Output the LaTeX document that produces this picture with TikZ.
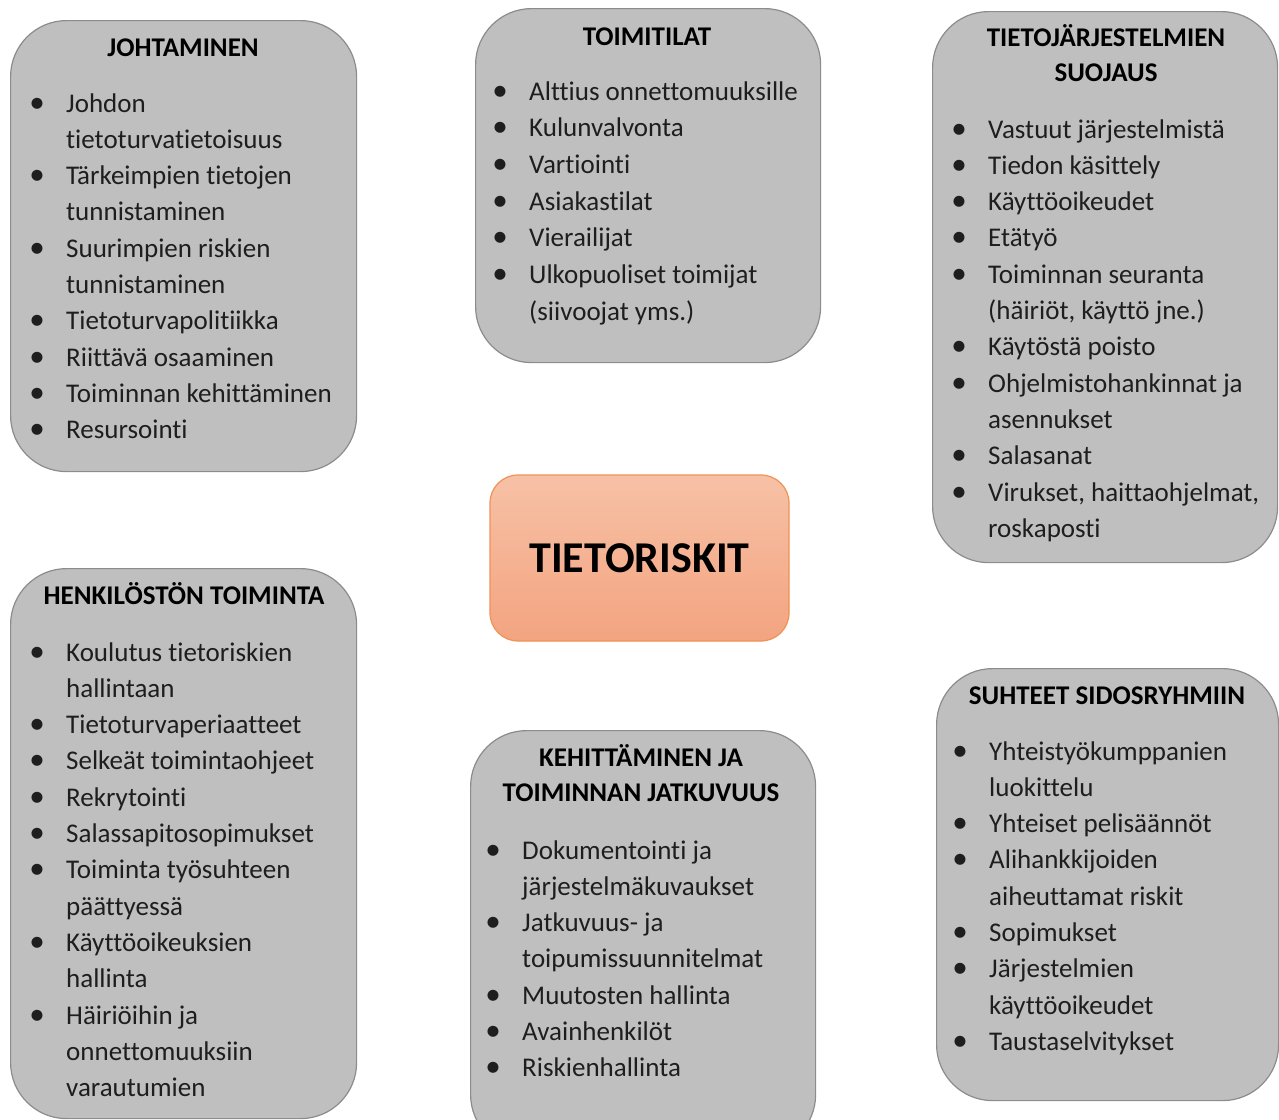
\documentclass[tikz,border=0pt]{standalone}
\usepackage{fontspec}
\setmainfont[Ligatures = NoCommon]{Carlito}
\usepackage{array}
\definecolor{boxgray}{RGB}{191,191,191}
\definecolor{boxline}{RGB}{140,140,140}
\definecolor{riskline}{RGB}{240,145,85}
\definecolor{risktop}{RGB}{247,193,166}
\definecolor{riskbottom}{RGB}{243,164,128}
\definecolor{itemtext}{RGB}{30,30,30}
\newcommand{\itm}[1]{\scalebox{1.15}{\textbullet} & #1\\}
\newcommand{\cnt}[1]{& #1\\}
\newcommand{\risklist}[2][36.3]{\fontsize{27}{#1}\selectfont\begin{tabular}[t]{@{}w{c}{16pt}@{\hspace{21pt}}l@{}}#2\end{tabular}}
\newcommand{\risktitle}[1]{\fontsize{27}{35}\selectfont\begin{tabular}[t]{@{}c@{}}#1\end{tabular}}
\begin{document}
\begin{tikzpicture}[x = 1pt, y = -1pt,
areabox/.style = {draw = boxline, fill = boxgray, line width = 1.2pt, rounded corners = 56pt, anchor = north west, inner sep = 0pt},
areatitle/.style = {anchor = base, inner sep = 0pt, font = \bfseries},
arealist/.style = {anchor = base west, inner sep = 0pt, text = itemtext}]
\useasboundingbox (0,0) rectangle (1279,1119);
\clip (0,0) rectangle (1279,1119);
\node [areabox, minimum width = 346pt, minimum height = 451pt] (johto) at (10,20) {};
\node [areabox, minimum width = 345pt, minimum height = 354pt] (tilat) at (475,8) {};
\node [areabox, minimum width = 345pt, minimum height = 551pt] (suojaus) at (932,11) {};
\node [areabox, minimum width = 346pt, minimum height = 550pt] (henkilosto) at (10,568) {};
\node [areabox, minimum width = 345pt, minimum height = 420pt] (jatkuvuus) at (470,730) {};
\node [areabox, minimum width = 342pt, minimum height = 432pt] (sidos) at (936,668) {};
\node [draw = riskline, line width = 1.2pt, top color = risktop, bottom color = riskbottom, rounded corners = 28pt, minimum width = 299pt, minimum height = 166pt, font = \fontsize{44}{50}\selectfont\bfseries] (riskit) at (639.5,558) {TIETORISKIT};
\node [areatitle] (johtot) at (183,56) {\risktitle{JOHTAMINEN}};
\node [areatitle] (tilatt) at (647,45) {\risktitle{TOIMITILAT}};
\node [areatitle] (suojaust) at (1106,46) {\risktitle{TIETOJÄRJESTELMIEN\\SUOJAUS}};
\node [areatitle] (henkilostot) at (184,604) {\risktitle{HENKILÖSTÖN TOIMINTA}};
\node [areatitle] (jatkuvuust) at (641,766) {\risktitle{KEHITTÄMINEN JA\\TOIMINNAN JATKUVUUS}};
\node [areatitle] (sidost) at (1107,704) {\risktitle{SUHTEET SIDOSRYHMIIN}};
\node [arealist] (johtol) at (29,112) {\risklist{
\itm{Johdon}
\cnt{tietoturvatietoisuus}
\itm{Tärkeimpien tietojen}
\cnt{tunnistaminen}
\itm{Suurimpien riskien}
\cnt{tunnistaminen}
\itm{Tietoturvapolitiikka}
\itm{Riittävä osaaminen}
\itm{Toiminnan kehittäminen}
\itm{Resursointi}}};
\node [arealist] (tilatl) at (492,100) {\risklist[36.7]{
\itm{Alttius onnettomuuksille}
\itm{Kulunvalvonta}
\itm{Vartiointi}
\itm{Asiakastilat}
\itm{Vierailijat}
\itm{Ulkopuoliset toimijat}
\cnt{(siivoojat yms.)}}};
\node [arealist] (suojausl) at (951,138) {\risklist{
\itm{Vastuut järjestelmistä}
\itm{Tiedon käsittely}
\itm{Käyttöoikeudet}
\itm{Etätyö}
\itm{Toiminnan seuranta}
\cnt{(häiriöt, käyttö jne.)}
\itm{Käytöstä poisto}
\itm{Ohjelmistohankinnat ja}
\cnt{asennukset}
\itm{Salasanat}
\itm{Virukset, haittaohjelmat,}
\cnt{roskaposti}}};
\node [arealist] (henkilostol) at (29,661) {\risklist{
\itm{Koulutus tietoriskien}
\cnt{hallintaan}
\itm{Tietoturvaperiaatteet}
\itm{Selkeät toimintaohjeet}
\itm{Rekrytointi}
\itm{Salassapitosopimukset}
\itm{Toiminta työsuhteen}
\cnt{päättyessä}
\itm{Käyttöoikeuksien}
\cnt{hallinta}
\itm{Häiriöihin ja}
\cnt{onnettomuuksiin}
\cnt{varautumien}}};
\node [arealist] (jatkuvuusl) at (485,859) {\risklist{
\itm{Dokumentointi ja}
\cnt{järjestelmäkuvaukset}
\itm{Jatkuvuus- ja}
\cnt{toipumissuunnitelmat}
\itm{Muutosten hallinta}
\itm{Avainhenkilöt}
\itm{Riskienhallinta}}};
\node [arealist] (sidosl) at (952,760) {\risklist{
\itm{Yhteistyökumppanien}
\cnt{luokittelu}
\itm{Yhteiset pelisäännöt}
\itm{Alihankkijoiden}
\cnt{aiheuttamat riskit}
\itm{Sopimukset}
\itm{Järjestelmien}
\cnt{käyttöoikeudet}
\itm{Taustaselvitykset}}};
\end{tikzpicture}
\end{document}
